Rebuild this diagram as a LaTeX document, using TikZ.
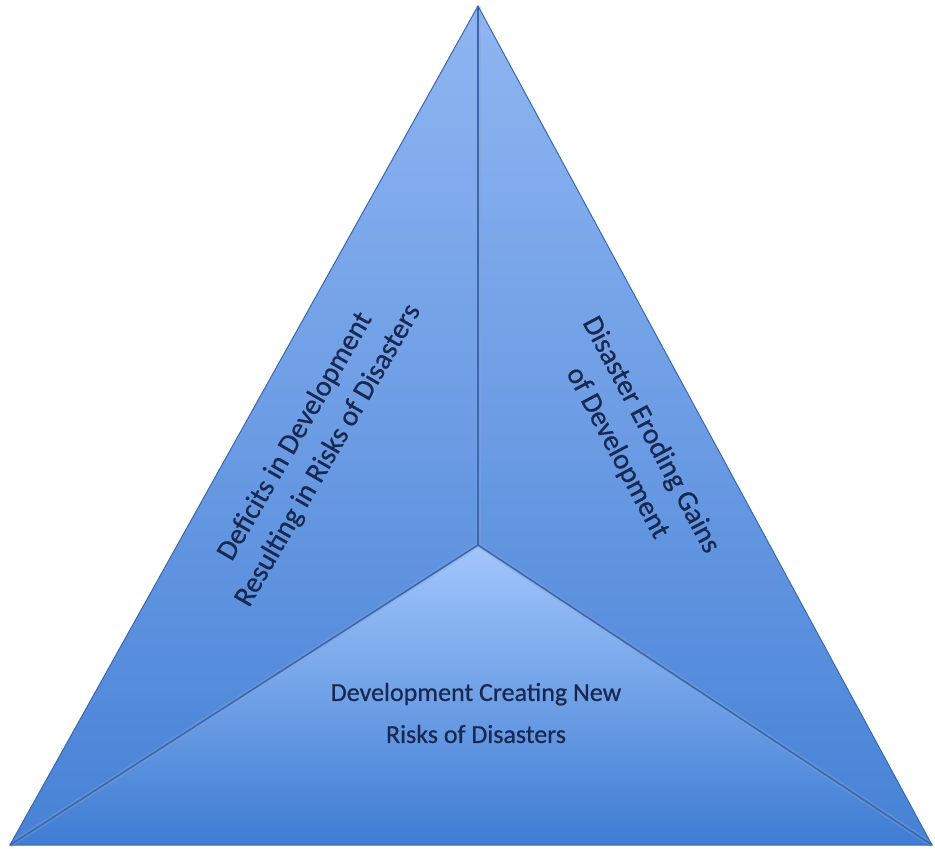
\documentclass[tikz,border=0pt]{standalone}
\usepackage{fontspec}
\setmainfont{Carlito}
\newfontfamily\labelfont{Carlito}[FakeBold=0.6]
\begin{document}
\begin{tikzpicture}[x=1pt,y=-1pt]
\definecolor{faceLtop}{HTML}{90B6F2}
\definecolor{faceLbot}{HTML}{4782D6}
\definecolor{faceBtop}{HTML}{A2C6FB}
\definecolor{faceBbot}{HTML}{3E7CD3}
\definecolor{edgecol}{HTML}{3A68B0}
\definecolor{txtcol}{HTML}{182850}
\tikzset{
  divider/.style={draw=edgecol, line width=1.6pt, line join=round},
  dividerglow/.style={draw=edgecol!60, line width=5pt, opacity=0.35},
  outline/.style={draw=edgecol, line width=1pt, line join=miter},
  rottext/.style={text=txtcol, align=center, font=\labelfont\fontsize{29}{38}\selectfont, inner sep=0pt},
  basetext/.style={text=txtcol, align=center, font=\labelfont\fontsize{26}{42}\selectfont, inner sep=0pt}
}
\useasboundingbox (0,0) rectangle (935,849);
\coordinate (apex) at (478,6);
\coordinate (ctr) at (478,545);
\coordinate (bl) at (10,845);
\coordinate (br) at (932,845);
\shade[top color=faceLtop, bottom color=faceLbot] (apex) -- (ctr) -- (bl) -- cycle;
\shade[top color=faceLtop, bottom color=faceLbot] (apex) -- (br) -- (ctr) -- cycle;
\shade[top color=faceBtop, bottom color=faceBbot] (ctr) -- (br) -- (bl) -- cycle;
\draw[dividerglow] (apex) -- (ctr);
\draw[dividerglow] (bl) -- (ctr) -- (br);
\draw[divider] (apex) -- (ctr);
\draw[divider] (bl) -- (ctr) -- (br);
\draw[outline] (apex) -- (br) -- (bl) -- cycle;
\node[rottext, rotate=60] (deficits) at (312,446) {Deficits in Development\\Resulting in Risks of Disasters};
\node[rottext, rotate=-62] (eroding) at (634,444) {Disaster Eroding Gains\\of Development};
\node[basetext] (creating) at (476,713) {Development Creating New\\Risks of Disasters};
\end{tikzpicture}
\end{document}
